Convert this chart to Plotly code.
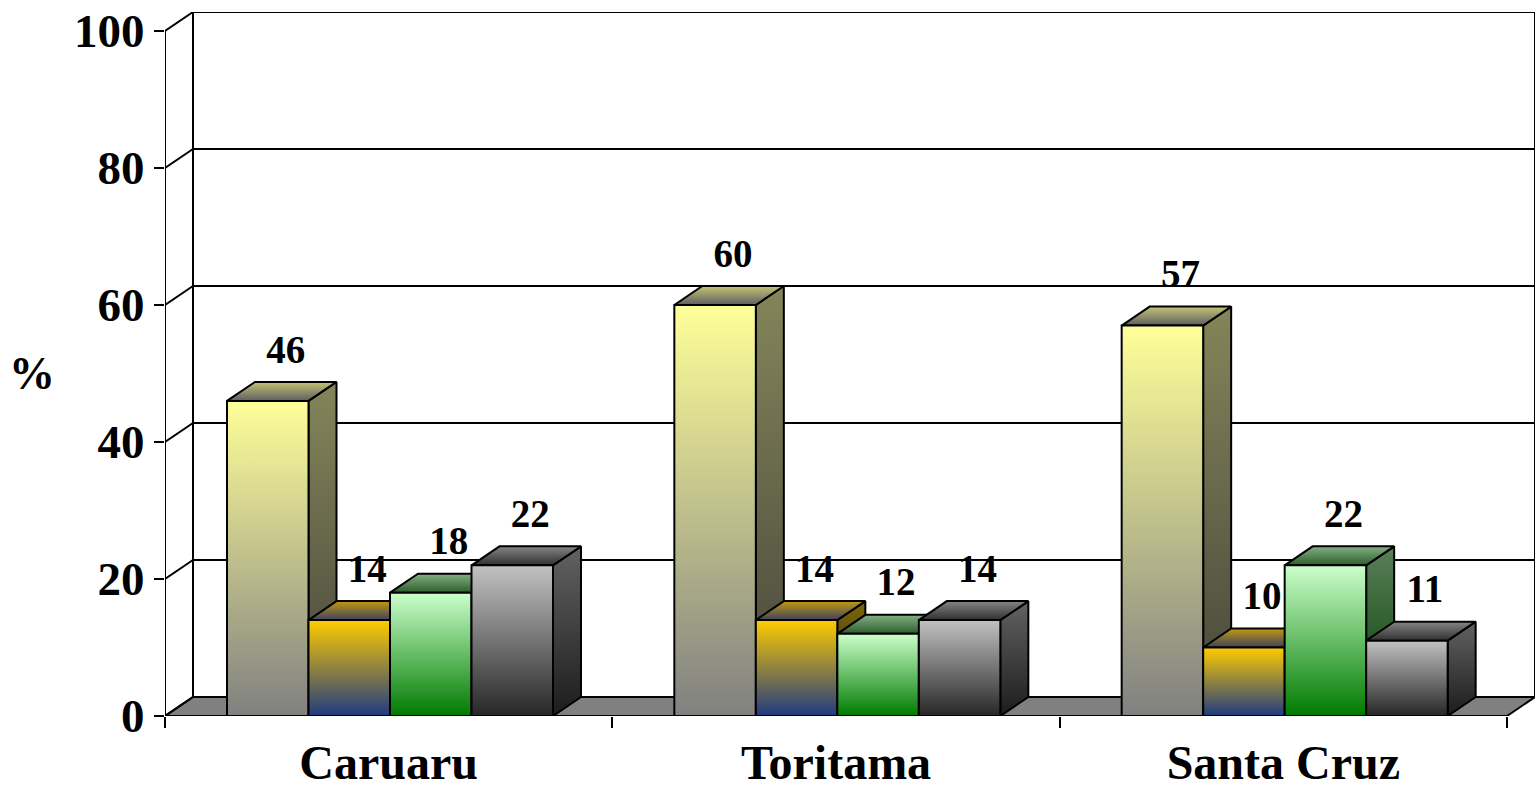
import plotly.graph_objects as go

# ---- data ----
categories = ["Caruaru", "Toritama", "Santa Cruz"]
series_names = ["Série 1", "Série 2", "Série 3", "Série 4"]
values = [
    [46, 60, 57],   # yellow
    [14, 14, 10],   # orange
    [18, 12, 22],   # green
    [22, 14, 11],   # gray
]
y_ticks = [0, 20, 40, 60, 80, 100]
y_title = "%"

# ---- styles ----
front_cols = [("#808080", "#FFFF99"), ("#1F3A80", "#FFCC00"),
              ("#007A00", "#CCFFCC"), ("#262626", "#C2C2C2")]
side_cols = [("#45453A", "#85855A"), ("#102050", "#806600"),
             ("#003A00", "#5A805A"), ("#1C1C1C", "#626262")]
top_cols = [("#5E5E62", "#C4C474"), ("#404060", "#C09A10"),
            ("#2C5E2C", "#84B084"), ("#303030", "#858585")]

W, H = 1537, 788
ml, mr, mt, mb = 165, 2, 12, 72
plot_w = W - ml - mr
plot_h = H - mt - mb
DX_PX, DY_PX = 28, 19
ncat = len(categories)
ux = (ncat) / (plot_w - DX_PX)
dxu = DX_PX * ux
yr_top = 100 * plot_h / (plot_h - DY_PX)
dyu = yr_top - 100

gap_left = 62 * ux
bar_w = 81.5 * ux

fig = go.Figure()

shapes = []
line_k = dict(color="black", width=2)
shapes.append(dict(type="path", layer="below",
                   path=f"M 0 0 L {dxu} {dyu} L {ncat + dxu} {dyu} L {ncat} 0 Z",
                   fillcolor="#808080", line=line_k))
for v in y_ticks:
    shapes.append(dict(type="line", layer="below", x0=dxu, y0=v + dyu, x1=ncat + dxu, y1=v + dyu, line=line_k))
    shapes.append(dict(type="line", layer="below", x0=0, y0=v, x1=dxu, y1=v + dyu, line=line_k))
shapes.append(dict(type="line", layer="below", x0=dxu, y0=dyu, x1=dxu, y1=100 + dyu, line=line_k))
shapes.append(dict(type="line", layer="below", x0=ncat + dxu, y0=dyu, x1=ncat + dxu, y1=100 + dyu, line=line_k))
shapes.append(dict(type="line", layer="above", x0=0, y0=0, x1=0, y1=100, line=line_k))
shapes.append(dict(type="line", layer="above", x0=0, y0=0, x1=ncat, y1=0, line=line_k))


def poly(xs, ys, c0, c1, start, stop):
    fig.add_trace(go.Scatter(
        x=xs + [xs[0]], y=ys + [ys[0]], mode="lines", fill="toself",
        line=dict(color="black", width=2),
        fillgradient=dict(type="vertical", start=start, stop=stop,
                          colorscale=[[0, c0], [1, c1]]),
        hoverinfo="skip", showlegend=False))


lab_x, lab_y, lab_t = [], [], []
for c in range(ncat):
    for s in range(len(values)):
        v = values[s][c]
        x0 = c + gap_left + s * bar_w
        x1 = x0 + bar_w
        poly([x1, x1 + dxu, x1 + dxu, x1], [0, dyu, v + dyu, v],
             side_cols[s][0], side_cols[s][1], 0, v + dyu)
        poly([x0, x1, x1 + dxu, x0 + dxu], [v, v, v + dyu, v + dyu],
             top_cols[s][0], top_cols[s][1], v, v + dyu)
        poly([x0, x1, x1, x0], [0, 0, v, v],
             front_cols[s][0], front_cols[s][1], 0, v)
        lab_x.append((x0 + x1) / 2 + dxu / 2 + 4 * ux)
        lab_y.append(v + dyu + 1.4)
        lab_t.append(str(v))

fig.add_trace(go.Scatter(
    x=lab_x, y=lab_y, text=lab_t, mode="text", textposition="top center",
    textfont=dict(family="Liberation Serif", size=39, color="black", weight="bold"),
    hoverinfo="skip", showlegend=False))

fig.add_annotation(xref="paper", yref="y", x=0, y=50, text=y_title,
                   xanchor="right", yanchor="middle", xshift=-108, showarrow=False,
                   font=dict(family="Liberation Serif", size=46, color="black", weight="bold"))

fig.update_layout(
    width=W, height=H,
    margin=dict(l=ml, r=mr, t=mt, b=mb),
    paper_bgcolor="white", plot_bgcolor="white",
    showlegend=False, hovermode=False,
    shapes=shapes,
    font=dict(family="Liberation Serif", color="black", weight="bold"),
    xaxis=dict(range=[0, ncat + dxu], showgrid=False, zeroline=False, showline=False,
               tickvals=[i + 0.5 for i in range(ncat)], ticktext=categories,
               ticks="", tickfont=dict(size=48, weight="bold"),
               ticklabelstandoff=14, automargin=False,
               minor=dict(tickvals=list(range(ncat + 1)), ticks="outside", ticklen=11,
                          tickwidth=2, tickcolor="black", showgrid=False)),
    yaxis=dict(range=[0, yr_top], showgrid=False, zeroline=False, showline=False,
               tickvals=y_ticks, ticks="outside", ticklen=10, tickwidth=2,
               tickcolor="black", tickfont=dict(size=47, weight="bold"),
               ticklabelstandoff=0, automargin=False),
)

fig.write_html("out.html")
